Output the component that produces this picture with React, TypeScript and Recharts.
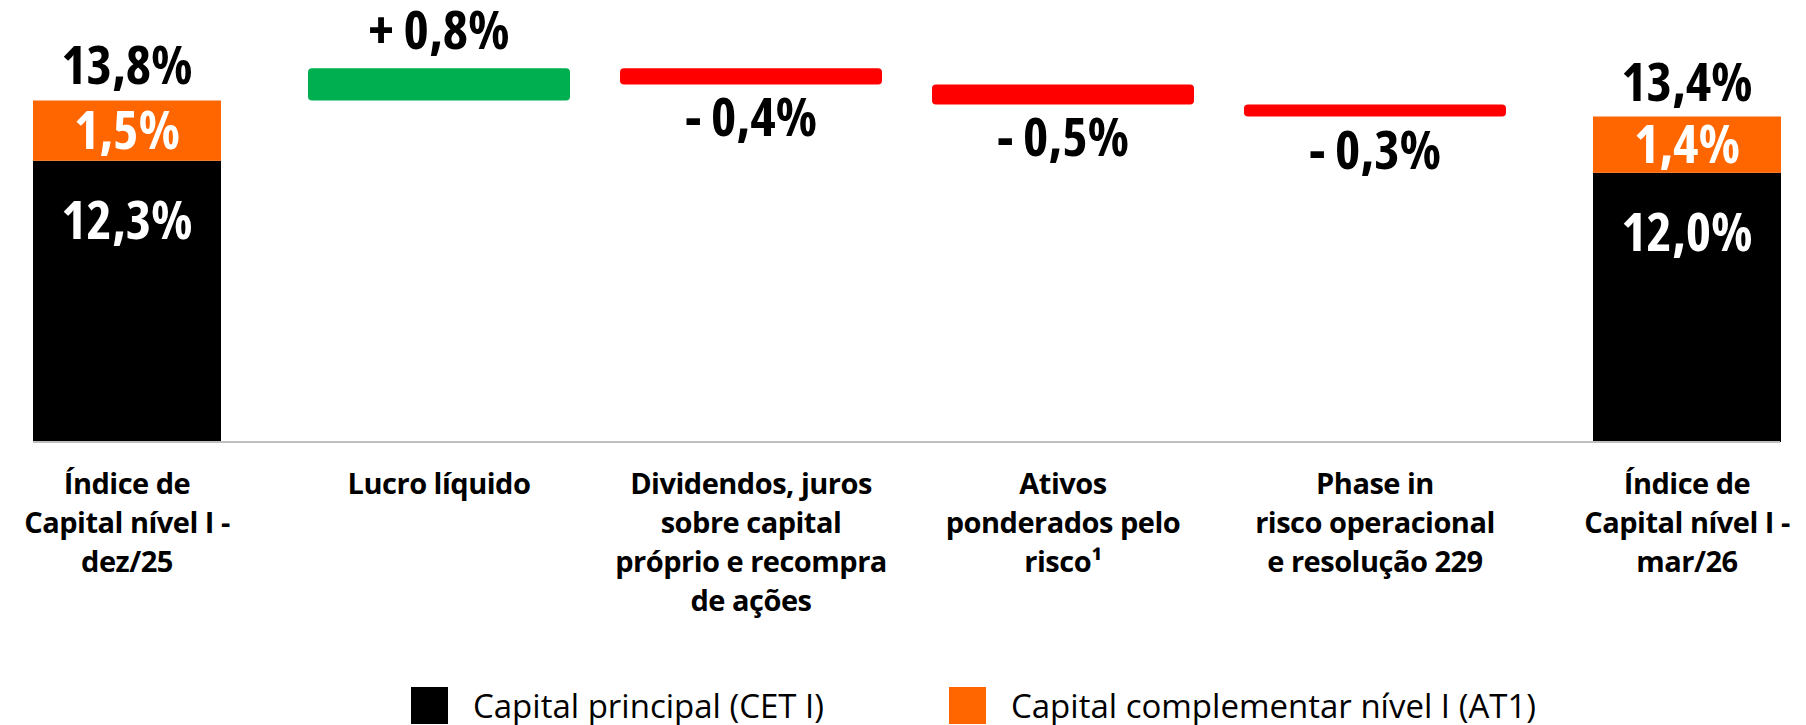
import React from "react"
import { BarChart, Bar, XAxis, YAxis, Cell, LabelList, Legend, ReferenceLine } from "recharts"

const FONT = '"Open Sans", "Noto Sans", sans-serif'

// category labels, one entry per line
const categories = [
  ["Índice de", "Capital nível I -", "dez/25"],
  ["Lucro líquido"],
  ["Dividendos, juros", "sobre capital", "próprio e recompra", "de ações"],
  ["Ativos", "ponderados pelo", "risco¹"],
  ["Phase in", "risco operacional", "e resolução 229"],
  ["Índice de", "Capital nível I -", "mar/26"],
]

const cet1 = [12.3, null, null, null, null, 12.0]
const at1 = [1.5, null, null, null, null, 1.4]
const deltas = [null, 0.8, -0.4, -0.5, -0.3, null]

const seriesNames = ["Capital principal (CET I)", "Capital complementar nível I (AT1)"]

const BLACK = "#000000"
const ORANGE = "#FF6600"
const GREEN = "#00B050"
const RED = "#FF0000"

const Y_MIN = 5.3

const r1 = (v: number) => Math.round(v * 10) / 10
const pct = (v: number) => `${v.toFixed(1).replace(".", ",")}%`

let running = r1((cet1[0] as number) + (at1[0] as number))
const data = categories.map((lines, i) => {
  const d = deltas[i]
  let range: number[] | null = null
  if (d != null) {
    const next = r1(running + d)
    range = [Math.min(running, next), Math.max(running, next)]
    running = next
  }
  const c = cet1[i]
  const a = at1[i]
  return {
    name: lines.join("\n"),
    cet: c,
    at1: a,
    total: c != null && a != null ? r1(c + a) : null,
    range,
    delta: d,
  }
})

const valueStyle: React.CSSProperties = {
  fontFamily: FONT,
  fontSize: 54,
  fontWeight: 700,
  fontStretch: "semi-condensed",
}

function box(p: any) {
  const vb = p.viewBox || {}
  return {
    x: typeof p.x === "number" ? p.x : vb.x,
    y: typeof p.y === "number" ? p.y : vb.y,
    width: typeof p.width === "number" ? p.width : vb.width,
    height: typeof p.height === "number" ? p.height : vb.height,
  }
}

function CetLabel(p: any) {
  if (p.value == null) return null
  const b = box(p)
  return (
    <text x={b.x + b.width / 2} y={b.y + 78} textAnchor="middle" fill="#fff" style={valueStyle}>
      {pct(p.value)}
    </text>
  )
}

function At1Label(p: any) {
  if (p.value == null) return null
  const b = box(p)
  return (
    <text x={b.x + b.width / 2} y={b.y + b.height / 2 + 18} textAnchor="middle" fill="#fff" style={valueStyle}>
      {pct(p.value)}
    </text>
  )
}

function TotalLabel(p: any) {
  if (p.value == null) return null
  const b = box(p)
  return (
    <text x={b.x + b.width / 2} y={b.y - 16} textAnchor="middle" fill="#000" style={valueStyle}>
      {pct(p.value)}
    </text>
  )
}

function DeltaLabel(p: any) {
  const v = p.value
  if (v == null) return null
  const b = box(p)
  const txt = v > 0 ? `+ ${pct(v)}` : `- ${pct(-v)}`
  const y = v > 0 ? b.y - 19 : b.y + b.height + 52
  return (
    <text x={b.x + b.width / 2} y={y} textAnchor="middle" fill="#000" style={valueStyle}>
      {txt}
    </text>
  )
}

function CategoryTick(props: any) {
  const { x, y, payload } = props
  const lines = String(payload?.value ?? "").split("\n")
  return (
    <text
      x={x}
      y={y}
      textAnchor="middle"
      fill="#000"
      fontFamily={FONT}
      fontSize={29}
      fontWeight={700}
      letterSpacing={-0.5}
    >
      {lines.map((l, k) => (
        <tspan key={k} x={x} dy={k === 0 ? 22 : 39}>
          {l}
        </tspan>
      ))}
    </text>
  )
}

function LegendContent(props: any) {
  const items = (props.payload || [])
    .filter((p: any) => p.type !== "none" && seriesNames.includes(p.value))
    .sort((a: any, b: any) => seriesNames.indexOf(a.value) - seriesNames.indexOf(b.value))
  return (
    <div
      style={{
        display: "flex",
        alignItems: "flex-end",
        boxSizing: "border-box",
        height: 46,
        paddingLeft: 411,
        fontFamily: FONT,
        fontSize: 33,
        color: "#000",
        whiteSpace: "nowrap",
      }}
    >
      {items.map((p: any, i: number) => (
        <div key={i} style={{ display: "flex", alignItems: "center", width: i === 0 ? 538 : "auto" }}>
          <span style={{ display: "inline-block", width: 37, height: 37, background: p.color, marginRight: 25 }} />
          <span>{p.value}</span>
        </div>
      ))}
    </div>
  )
}

export default function App() {
  return (
    <div style={{ position: "absolute", left: 0, top: 0, width: 1806, height: 725, background: "#fff" }}>
      <BarChart width={1806} height={725} data={data} margin={{ top: 0, right: 26, bottom: 0, left: 33 }}>
        <XAxis
          xAxisId="tot"
          dataKey="name"
          interval={0}
          height={237}
          padding={{ left: -62, right: -63 }}
          axisLine={false}
          tickLine={false}
          tickSize={0}
          tickMargin={0}
          tick={<CategoryTick />}
        />
        <XAxis xAxisId="flt" dataKey="name" hide padding={{ left: -62, right: -63 }} />
        <YAxis hide domain={[Y_MIN, 16.3]} allowDataOverflow />

        <Bar xAxisId="tot" dataKey="cet" name={seriesNames[0]} stackId="t" fill={BLACK} barSize={188} isAnimationActive={false}>
          <LabelList dataKey="cet" content={<CetLabel />} />
        </Bar>
        <Bar xAxisId="tot" dataKey="at1" name={seriesNames[1]} stackId="t" fill={ORANGE} barSize={188} isAnimationActive={false}>
          <LabelList dataKey="at1" content={<At1Label />} />
          <LabelList dataKey="total" content={<TotalLabel />} />
        </Bar>
        <Bar xAxisId="flt" dataKey="range" legendType="none" barSize={262} radius={4} isAnimationActive={false}>
          {data.map((d, i) => (
            <Cell key={i} fill={d.delta != null && d.delta > 0 ? GREEN : RED} />
          ))}
          <LabelList dataKey="delta" content={<DeltaLabel />} />
        </Bar>

        <ReferenceLine xAxisId="tot" y={Y_MIN} stroke="#BFBFBF" strokeWidth={2} ifOverflow="visible" />

        <Legend verticalAlign="bottom" content={<LegendContent />} wrapperStyle={{ left: 0, width: 1806, bottom: -3 }} />
      </BarChart>
    </div>
  )
}
